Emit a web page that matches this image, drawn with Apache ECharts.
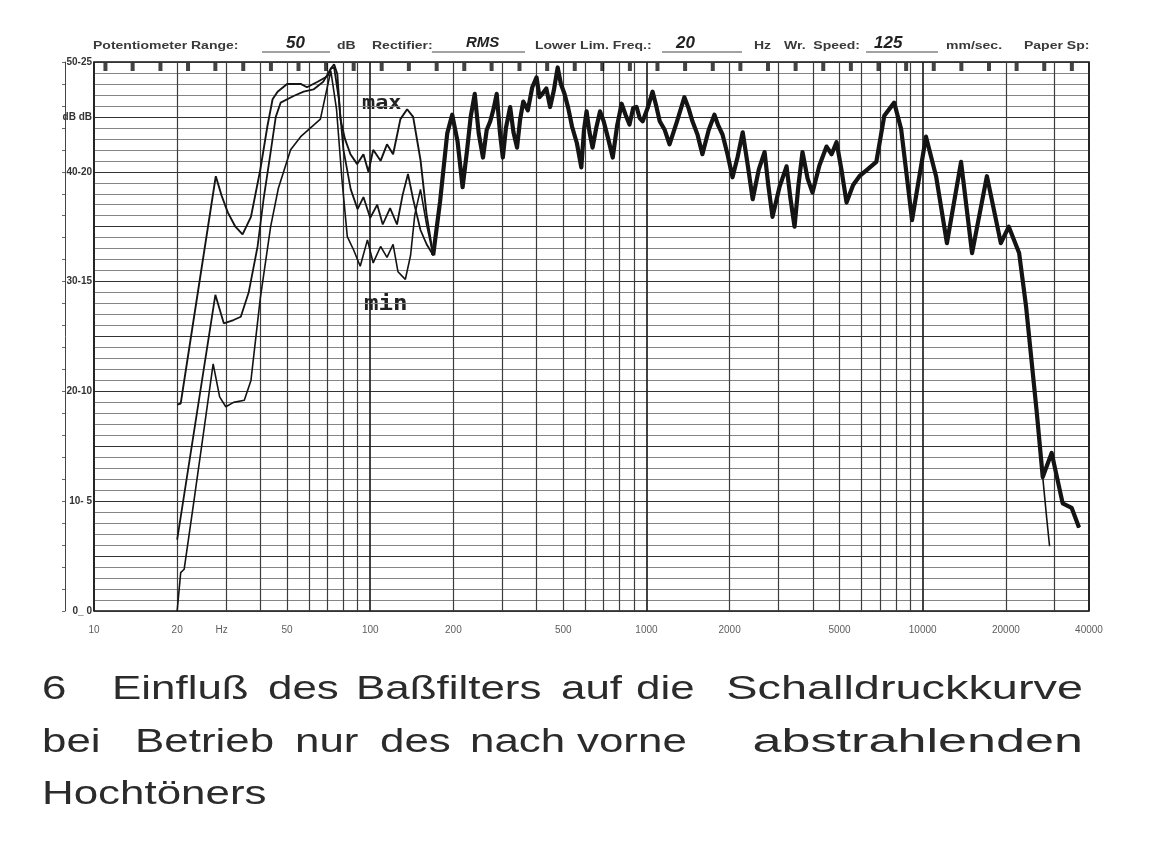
<!DOCTYPE html>
<html>
<head>
<meta charset="utf-8">
<title>Schalldruckkurve</title>
<script src="https://cdn.jsdelivr.net/npm/echarts@6.0.0/dist/echarts.min.js"></script>
<style>
  html, body { margin: 0; padding: 0; background: #fff; }
  #chart { width: 1149px; height: 854px; }
</style>
</head>
<body>
<div id="chart"></div>
<script>
// --- data: [Hz, dB] ---

// bass part, three settings of the bass filter
var maxBass = [[20,18.8],[20.6,18.9],[27.6,39.6],[29,37.8],[30.5,36.3],[32.5,35],[34.5,34.3],[37,35.9],[40,40.2],[42.4,44.1],[44.3,46.6],[46.2,47.3],[50,48],[56,48],[59,47.7],[64.5,48.2],[70,48.7],[72,49.4],
  [74,49.8],[76,48.9],[78,44.8],[81,43],[84.8,41.6],[89.7,40.7],[94.5,41.6],[98.5,40],[102.5,42],[109,41],[115,42.5],[121,41.6],[128.6,44.8],[136,45.7],[143,45],[152,41.1],[160,36.1]];
var midBass = [[20,6.5],[27.5,28.8],[29.5,26.2],[32,26.5],[34,26.8],[36.3,29],[39.1,33.2],[41.1,37.5],[43.6,41.8],[45.5,45],[47.4,46.3],[52.8,46.9],[57.4,47.3],[62.3,47.5],[67.6,48.2],[72,49.4],
  [74,49.5],[77,46.6],[80,42],[85,38.4],[90,36.6],[94.5,37.7],[100,35.8],[106,37],[111,35.2],[118,36.7],[125,35.2],[131,37.9],[137,39.8],[143,37.5],[152,34.7],[160,33.4]];
var minBass = [[20,0],[20.6,3.5],[21.2,3.8],[23,10],[25,16.5],[27,22.5],[28.5,19.5],[30,18.6],[32,19],[35,19.2],[37,21],[40,28.5],[43.6,35],[46.5,38.5],[51.5,42],[56,43.2],[66,44.8],[72,49.2],
  [75.5,45.7],[79,39.3],[82.6,34.1],[87,32.9],[92,31.4],[97.7,33.8],[102.5,31.7],[109,33.2],[115,32.2],[121,33.4],[126,30.9],[134,30.2],[140,32.4],[145,36.1],[152,38.4],[160,35.2]];

// from ~170 Hz up all three traces lie on top of each other
var shared = [[169,32.4],[179,37.3],[190,43.5],[198,45.2],[207,42.8],[216,38.6],[224,41.9],[231,45],[239,47.1],[247,43.5],[256,41.3],[264,43.8],[272,44.6],[280,45.8],[287,47.1],[295,43.5],[302,41.3],[310,44],[321,45.9],[330,43.6],[340,42.2],[349,44.8],[358,46.4],[372,45.6],[386,47.7],[400,48.6],[410,46.8],[420,47.1],[434,47.6],[448,45.9],[462,47.4],[477,49.5],[490,48],[505,47.1],[521,45.8],[538,44.1],[560,42.6],[581,40.4],[594,43.8],[607,45.5],[622,43.6],[638,42.2],[658,44],[679,45.5],[700,44.6],[727,43],[755,41.3],[783,44.2],[813,46.2],[840,45.2],[868,44.3],[895,45.8],[921,45.9],[945,44.9],[969,44.6],[1010,45.8],[1052,47.3],[1085,46],[1117,44.6],[1165,43.8],[1212,42.5],[1290,44.6],[1372,46.8],[1420,45.8],[1467,44.6],[1530,43.4],[1594,41.6],[1680,43.8],[1762,45.2],[1820,44.2],[1885,43.4],[1965,41.6],[2049,39.5],[2140,41.4],[2231,43.6],[2330,40.5],[2424,37.5],[2550,40.2],[2677,41.8],[2760,38.8],[2859,35.9],[3030,38.6],[3215,40.5],[3320,37.6],[3436,35],[3550,38.8],[3672,41.8],[3830,39.4],[3990,38.1],[4230,40.6],[4487,42.3],[4680,41.6],[4877,42.7],[5080,40.2],[5300,37.2],[5600,38.8],[5902,39.6],[6300,40.2],[6794,40.9],[7259,45.1],[7886,46.3],[8355,43.9],[9150,35.6],[10280,43.2],[11180,39.6],[12240,33.5],[13770,40.9],[15090,32.6],[17080,39.6],[19180,33.5],[20500,35],[22340,32.6],[23680,27.7],[25900,18],[27200,12.2]];
var upperTail = [[29300,14.4],[32120,9.8],[34600,9.4],[36810,7.6]];
var lowerTail = [[28100,8.5],[28800,5.9]];

// axis texts
var xTickPos = [10,20,29,50,100,200,500,1000,2000,5000,10000,20000,40000];
var xTickText = ['10','20','Hz','50','100','200','500','1000','2000','5000','10000','20000','40000'];
var yTickVals = [0,10,20,30,40,45,50];
var yTickText = ['0_ 0','10- 5','20-10','30-15','40-20','dB dB','50-25'];

// chart paper: vertical lines between the decades, recorder marks on top edge
var vLines = [20,30,40,50,60,70,80,90,200,300,400,500,600,700,800,900,2000,3000,4000,5000,6000,7000,8000,9000,20000,30000];
var topMarks = [11,13.8,17.4,21.9,27.5,34.7,43.7,55,69.2,87.1,110,138,174,219,275,347,437,550,692,871,1096,1380,1738,2188,2754,3467,4365,5495,6918,8710,10965,13804,17378,21878,27542,34674];

var FONT = "'Liberation Sans', Arial, sans-serif";
var ink = '#141414';

function txt(s, x, y, size, opt) {
    opt = opt || {};
    return {
        type: 'text', x: x, y: y, silent: true,
        scaleX: opt.sx || 1,
        style: {
            text: s,
            font: (opt.weight || 'normal') + ' ' + size + 'px ' + (opt.family || FONT),
            fill: opt.color || '#2a2a2a',
            textAlign: opt.align || 'left', align: opt.align || 'left',
            textVerticalAlign: 'middle', verticalAlign: 'middle'
        }
    };
}
function uline(x1, x2, y) {
    return { type: 'line', silent: true, shape: { x1: x1, y1: y, x2: x2, y2: y }, style: { stroke: '#444', lineWidth: 1 } };
}

var graphics = [];
// header of the recorder paper
var hs = { weight: 'bold', sx: 1.4, color: '#3a3a3a' };
graphics.push(txt('Potentiometer Range:', 93, 46, 10, hs));
graphics.push(uline(262, 330, 52));
graphics.push(txt('50', 286, 43, 17, { weight: 'bold italic', color: '#222' }));
graphics.push(txt('dB', 337, 46, 10, hs));
graphics.push(txt('Rectifier:', 372, 46, 10, hs));
graphics.push(uline(432, 525, 52));
graphics.push(txt('RMS', 466, 43, 15, { weight: 'bold italic', color: '#222' }));
graphics.push(txt('Lower Lim. Freq.:', 535, 46, 10, hs));
graphics.push(uline(662, 742, 52));
graphics.push(txt('20', 676, 43, 17, { weight: 'bold italic', color: '#222' }));
graphics.push(txt('Hz', 754, 46, 10, hs));
graphics.push(txt('Wr.  Speed:', 784, 46, 10, hs));
graphics.push(uline(866, 938, 52));
graphics.push(txt('125', 874, 43, 17, { weight: 'bold italic', color: '#222' }));
graphics.push(txt('mm/sec.', 946, 46, 10, hs));
graphics.push(txt('Paper Sp:', 1024, 46, 10, hs));

// hand labels on the curves
graphics.push(txt('max', 362, 104, 19, { weight: 'bold', family: "'DejaVu Sans Mono', monospace", sx: 1.15, color: '#222' }));
graphics.push(txt('min', 364, 305, 21, { weight: 'bold', family: "'DejaVu Sans Mono', monospace", sx: 1.15, color: '#222' }));

// caption
var cs = { sx: 1.33, color: '#2b2b2b' };
[['6',42],['Einfluß',112],['des',268],['Baßfilters',356],['auf',561],['die',636]].forEach(function (w) {
    graphics.push(txt(w[0], w[1], 690, 33, cs));
});
graphics.push(txt('Schalldruckkurve', 1083, 690, 33, { sx: 1.42, color: '#2b2b2b', align: 'right' }));
[['bei',42],['Betrieb',135],['nur',295],['des',380],['nach',470],['vorne',577]].forEach(function (w) {
    graphics.push(txt(w[0], w[1], 743, 33, cs));
});
graphics.push(txt('abstrahlenden', 1083, 743, 33, { sx: 1.58, color: '#2b2b2b', align: 'right' }));
graphics.push(txt('Hochtöners', 42, 795, 33, cs));

var chart = echarts.init(document.getElementById('chart'));

var option = {
    animation: false,
    backgroundColor: '#fff',
    grid: { left: 94, right: 60, top: 62, bottom: 243, show: true, borderColor: '#111', borderWidth: 1.6, backgroundColor: '#fff' },
    xAxis: {
        type: 'log', logBase: 10, min: 10, max: 40000,
        axisLine: { show: false }, axisTick: { show: false }, axisLabel: { show: false },
        splitLine: { show: true, lineStyle: { color: '#222', width: 1.7 } }
    },
    yAxis: [{
        type: 'value', min: 0, max: 50, interval: 5,
        axisLine: { show: false }, axisTick: { show: false },
        axisLabel: {
            margin: 2, color: '#333', fontSize: 10, fontWeight: 'bold', fontFamily: FONT,
            formatter: function (v) { var i = yTickVals.indexOf(v); return i < 0 ? '' : yTickText[i]; }
        },
        splitLine: { show: true, lineStyle: { color: '#333', width: 1.2 } },
        minorTick: { show: false, splitNumber: 5 },
        minorSplitLine: { show: true, lineStyle: { color: '#858585', width: 1 } }
    }, {
        type: 'value', min: 0, max: 50, interval: 2, position: 'left', offset: 29,
        axisLine: { show: true, lineStyle: { color: '#444', width: 1 } },
        axisTick: { show: true, length: 3, lineStyle: { color: '#666' } },
        axisLabel: { show: false }, splitLine: { show: false }
    }],
    graphic: graphics,
    series: [{
        name: 'paper', type: 'scatter', data: topMarks.map(function (f) { return [f, 50]; }),
        symbol: 'rect', symbolSize: [4, 8], symbolOffset: [0, 5], clip: false, silent: true,
        itemStyle: { color: ink }, z: 2,
        markLine: {
            silent: true, symbol: ['none', 'none'], label: { show: false }, z: 1, animation: false,
            lineStyle: { color: '#3c3c3c', width: 1.2, type: 'solid' },
            data: vLines.map(function (v) { return { xAxis: v }; })
        }
    }, {
        name: 'xlabels', type: 'scatter', silent: true, clip: false,
        data: xTickPos.map(function (f, i) { return { value: [f, 0], name: xTickText[i] }; }),
        symbolSize: 1, itemStyle: { color: 'rgba(0,0,0,0)' },
        label: { show: true, position: 'bottom', distance: 14, formatter: '{b}', color: '#333', fontSize: 10, fontFamily: FONT }
    }, {
        name: 'max', type: 'line', data: maxBass.concat(shared, upperTail), showSymbol: false,
        lineStyle: { color: ink, width: 1.9 }, z: 3
    }, {
        name: 'mid', type: 'line', data: midBass.concat(shared, upperTail), showSymbol: false,
        lineStyle: { color: ink, width: 1.8 }, z: 3
    }, {
        name: 'min', type: 'line', data: minBass.concat(shared, lowerTail), showSymbol: false,
        lineStyle: { color: ink, width: 1.6 }, z: 3
    }, {
        name: 'overlap', type: 'line', data: shared.concat(upperTail), showSymbol: false,
        lineStyle: { color: ink, width: 4.2, join: 'round' }, z: 4
    }]
};

chart.setOption(option);
</script>
</body>
</html>
